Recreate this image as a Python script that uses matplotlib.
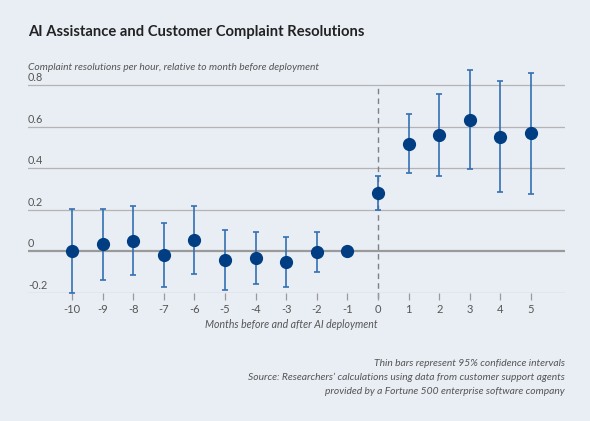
import matplotlib
matplotlib.use('Agg')
import matplotlib.pyplot as plt
from matplotlib.transforms import blended_transform_factory

months = [-10, -9, -8, -7, -6, -5, -4, -3, -2, -1, 0, 1, 2, 3, 4, 5]
estimates = [0.0, 0.034, 0.051, -0.016, 0.054, -0.043, -0.032, -0.050, -0.002, 0.0,
             0.282, 0.518, 0.561, 0.633, 0.553, 0.569]
ci_low = [-0.20, -0.139, -0.113, -0.171, -0.109, -0.186, -0.158, -0.169, -0.098, None,
          0.200, 0.377, 0.363, 0.395, 0.288, 0.277]
ci_high = [0.203, 0.203, 0.217, 0.139, 0.219, 0.101, 0.096, 0.070, 0.093, None,
           0.362, 0.659, 0.760, 0.873, 0.819, 0.859]
y_ticks = [-0.2, 0, 0.2, 0.4, 0.6, 0.8]
y_tick_labels = ['-0.2', '0', '0.2', '0.4', '0.6', '0.8']

plt.rcParams['font.family'] = ['Lato', 'DejaVu Sans']

BG = '#e9eef5'
fig = plt.figure(figsize=(5.9, 4.21), dpi=100, facecolor=BG)
ax = fig.add_axes([0.0475, 0.304, 0.9101, 0.543])
ax.set_facecolor(BG)

ax.set_xlim(-11.44, 6.11)
ax.set_ylim(-0.2, 0.9)

for v in y_ticks:
    if v == 0:
        ax.axhline(v, color='#9a9a9a', lw=1.6, zorder=1)
    else:
        ax.axhline(v, color='#b4b4b4', lw=0.9, zorder=1)

ax.plot([0, 0], [-0.225, 0.8], color='#808080', lw=1.0, ls=(0, (4, 3)),
        clip_on=False, zorder=1)

ex, ey, elo, ehi = [], [], [], []
for m, e, lo, hi in zip(months, estimates, ci_low, ci_high):
    if lo is None:
        continue
    ex.append(m); ey.append(e); elo.append(e - lo); ehi.append(hi - e)
ax.errorbar(ex, ey, yerr=[elo, ehi], fmt='none', ecolor='#3470b2', elinewidth=1.2,
            capsize=2.2, capthick=1.2, zorder=2)
ax.plot(months, estimates, 'o', color='#003d82', markersize=8.5, zorder=3)

for s in ax.spines.values():
    s.set_visible(False)
ax.set_yticks([])
ax.set_xticks(months)
ax.set_xticklabels([str(m) for m in months])
ax.tick_params(axis='x', length=5, width=0.9, color='#9a9a9a', labelcolor='#555555',
               labelsize=8, pad=3)

tr = blended_transform_factory(ax.transAxes, ax.transData)
for v, lab in zip(y_ticks, y_tick_labels):
    ax.text(0.0, v + 0.01, lab, transform=tr, ha='left', va='bottom',
            fontsize=7.8, color='#555555')

fig.text(28 / 590, 1 - 32 / 421, 'AI Assistance and Customer Complaint Resolutions',
         ha='left', va='center', fontsize=10.6, fontweight='bold', color='#222222')
fig.text(28 / 590, 1 - 67 / 421,
         'Complaint resolutions per hour, relative to month before deployment',
         ha='left', va='center', fontsize=7.4, style='italic', color='#555555')

xt = blended_transform_factory(ax.transData, fig.transFigure)
ax.text(0, 1 - 325 / 421, 'Months before and after AI deployment', transform=xt,
        ha='right', va='center', fontsize=7.6, style='italic', color='#555555')

foot = ['Thin bars represent 95% confidence intervals',
        'Source: Researchers\u2019 calculations using data from customer support agents',
        'provided by a Fortune 500 enterprise software company']
for i, line in enumerate(foot):
    fig.text(565 / 590, 1 - (364 + 13.5 * i) / 421, line, ha='right', va='center',
             fontsize=7.4, style='italic', color='#555555')

fig.savefig('out.png', dpi=100, facecolor=BG)
